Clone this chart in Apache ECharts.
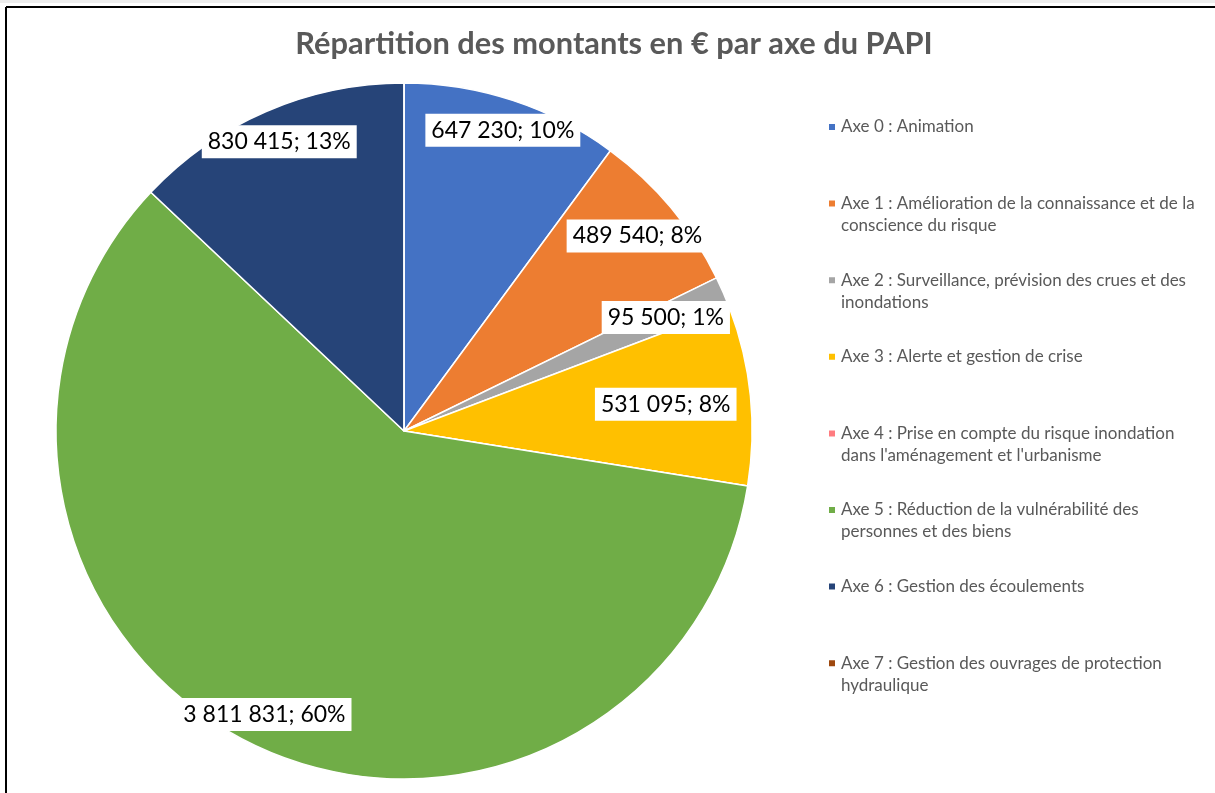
<!DOCTYPE html>
<html>
<head>
<meta charset="utf-8">
<style>
  html, body { margin: 0; padding: 0; background: #fff; }
  #chart { width: 1215px; height: 793px; }
</style>
<script src="https://cdn.jsdelivr.net/npm/echarts@6/dist/echarts.min.js"></script>
</head>
<body>
<div id="chart"></div>
<script>
// axes of the PAPI and their amounts in euros
const axes = [
  'Axe 0 : Animation',
  'Axe 1 : Amélioration de la connaissance et de la conscience du risque',
  'Axe 2 : Surveillance, prévision des crues et des inondations',
  'Axe 3 : Alerte et gestion de crise',
  "Axe 4 : Prise en compte du risque inondation dans l'aménagement et l'urbanisme",
  'Axe 5 : Réduction de la vulnérabilité des personnes et des biens',
  'Axe 6 : Gestion des écoulements',
  'Axe 7 : Gestion des ouvrages de protection hydraulique'
]
const montants = [647230, 489540, 95500, 531095, 0, 3811831, 830415, 0]

const colors = ['#4472C4', '#ED7D31', '#A5A5A5', '#FFC000', '#FF7C80', '#70AD47', '#264478', '#9E480E']
// how far out (fraction of radius) each label sits, like excel "best fit"
const labelRadius = [0.91, 0.874, 0.82, 0.756, 0.8, 0.908, 0.905, 0.8]

const legendFont = '17px Lato'
const legendWidth = 370
const legendStep = 76.6

const fmt = v => String(v).replace(/\B(?=(\d{3})+(?!\d))/g, ' ')

// count wrapped lines so the marker sits on the first line (like excel)
const ctx = document.createElement('canvas').getContext('2d')
ctx.font = legendFont
function lineCount (text) {
  let lines = 1
  let cur = ''
  text.split(' ').forEach(w => {
    const t = cur ? cur + ' ' + w : w
    if (cur && ctx.measureText(t).width > legendWidth) {
      lines++
      cur = w
    } else {
      cur = t
    }
  })
  return lines
}

// one legend per axe, so every entry gets the same step
const legends = axes.map((name, i) => {
  const twoLines = lineCount(name) > 1
  return {
    orient: 'vertical',
    left: 827,
    top: 116 + i * legendStep,
    padding: 0,
    itemWidth: 8,
    itemHeight: twoLines ? 30 : 8,
    selectedMode: false,
    data: [{
      name: name,
      // square on top of a tall box -> marker lines up with first text line
      icon: twoLines ? 'path://M0,0h8v8h-8z M0,30L8,30' : 'rect'
    }],
    textStyle: {
      fontFamily: 'Lato',
      fontSize: 17,
      color: '#595959',
      width: legendWidth,
      lineHeight: 22,
      overflow: 'break'
    }
  }
})

const chart = echarts.init(document.getElementById('chart'))
chart.setOption({
  animation: false,
  color: colors,
  title: {
    text: 'Répartition des montants en € par axe du PAPI',
    left: 609,
    top: 24,
    textAlign: 'center',
    textStyle: {
      fontFamily: 'Lato',
      fontWeight: 'bold',
      fontSize: 30.8,
      color: '#595959'
    }
  },
  legend: legends,
  graphic: [
    { type: 'rect', shape: { x: 0, y: 0, width: 1215, height: 3 }, style: { fill: '#ededed' } },
    { type: 'line', shape: { x1: 6, y1: 7, x2: 1215, y2: 7 }, style: { stroke: '#000', lineWidth: 2 } },
    { type: 'line', shape: { x1: 6, y1: 7, x2: 6, y2: 793 }, style: { stroke: '#000', lineWidth: 2 } }
  ],
  series: [
    {
      type: 'pie',
      center: [404, 431],
      radius: 348,
      startAngle: 90,
      clockwise: true,
      avoidLabelOverlap: false,
      itemStyle: {
        borderColor: '#fff',
        borderWidth: 1.5
      },
      label: {
        position: 'inside',
        formatter: p => fmt(p.value) + '; ' + Math.round(p.percent) + '%',
        fontFamily: 'Lato',
        fontSize: 23,
        lineHeight: 25,
        color: '#000',
        backgroundColor: '#fff',
        padding: [4, 6]
      },
      labelLine: { show: false },
      labelLayout: function (params) {
        const data = chart.getModel().getSeriesByIndex(0).getData()
        const lay = data.getItemLayout(params.dataIndex)
        if (!lay) return {}
        const mid = (lay.startAngle + lay.endAngle) / 2
        const r = lay.r * labelRadius[params.dataIndex]
        return {
          x: lay.cx + r * Math.cos(mid),
          y: lay.cy + r * Math.sin(mid),
          align: 'center',
          verticalAlign: 'middle'
        }
      },
      data: axes.map((name, i) => ({
        name: name,
        value: montants[i],
        label: { show: montants[i] > 0 }
      }))
    }
  ]
})
</script>
</body>
</html>
